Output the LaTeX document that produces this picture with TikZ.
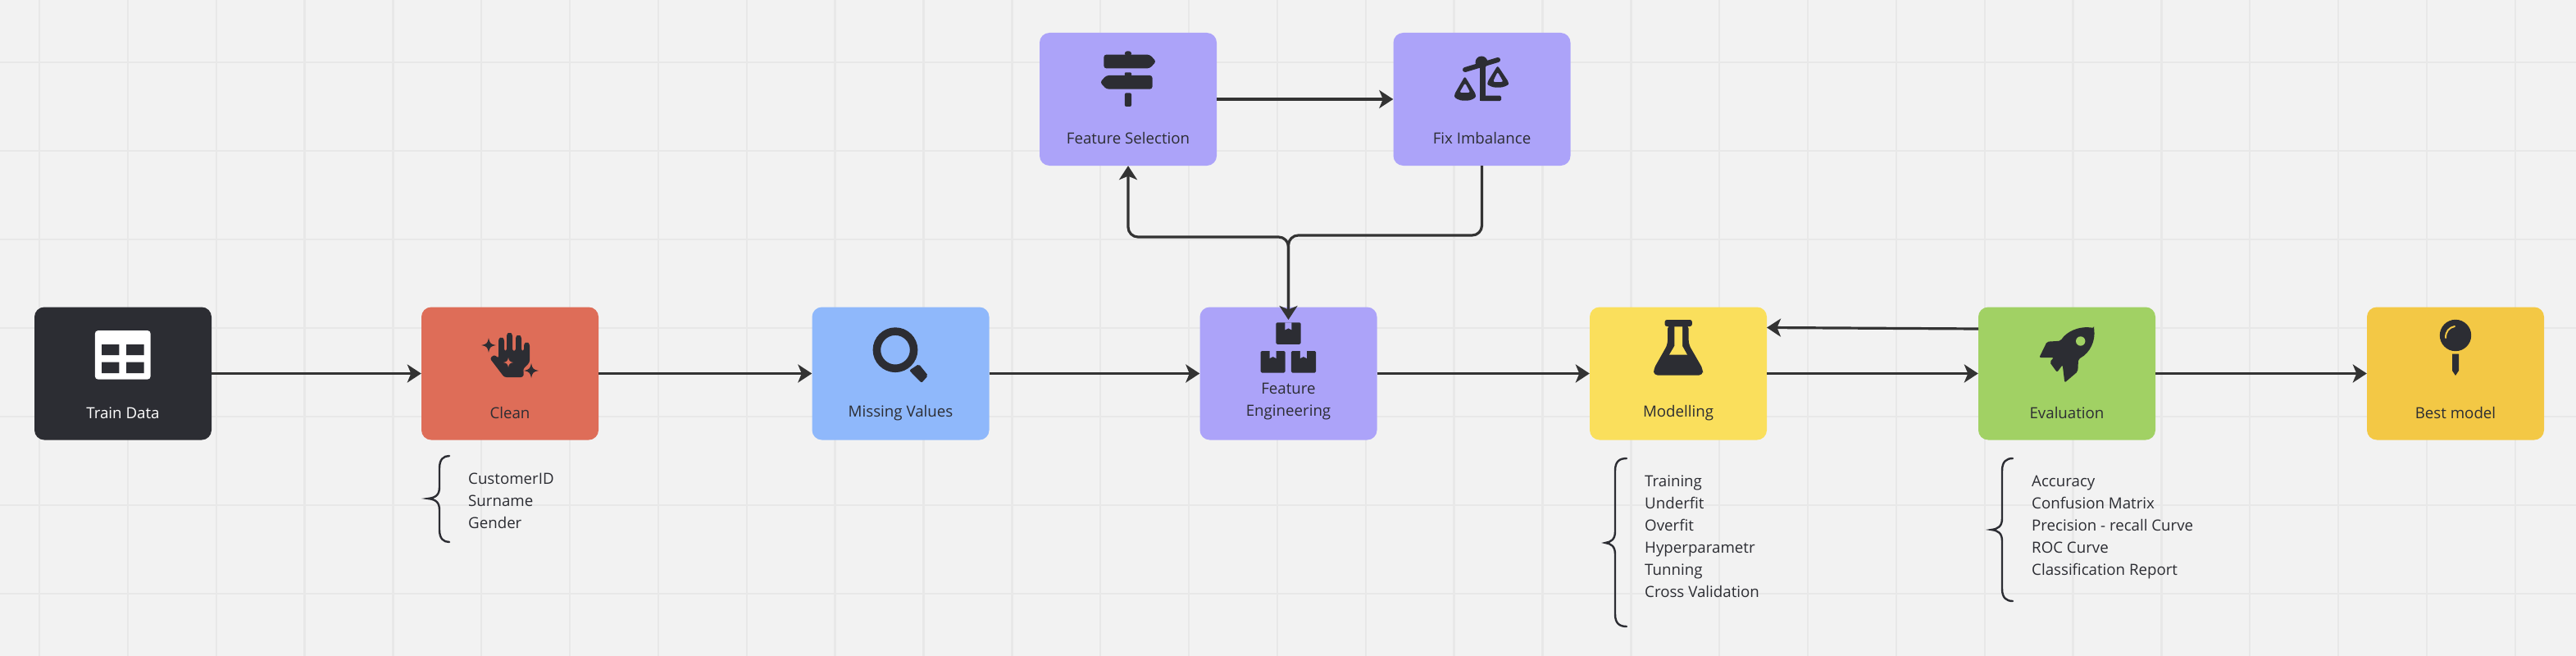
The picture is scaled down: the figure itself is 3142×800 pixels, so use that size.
\documentclass[tikz,border=0pt]{standalone}
\usepackage{fontspec}
\setmainfont{Open Sans}
\usetikzlibrary{arrows.meta}
\definecolor{pagebg}{HTML}{F2F2F2}
\definecolor{gridc}{HTML}{E8E8E8}
\definecolor{ink}{HTML}{2C2D33}
\definecolor{linec}{HTML}{333333}
\definecolor{cred}{HTML}{DE6D58}
\definecolor{cblue}{HTML}{8FB8FB}
\definecolor{cpurple}{HTML}{ACA3F9}
\definecolor{cyellow}{HTML}{FADF5C}
\definecolor{cgreen}{HTML}{A1D164}
\definecolor{cgold}{HTML}{F3C845}
\tikzset{
  cardbox/.style={rectangle,rounded corners=12pt,minimum width=216pt,minimum height=162pt,inner sep=0pt,draw=none},
  lbl/.style={inner sep=0pt,text=ink,align=center,font=\fontsize{18.7}{27}\selectfont},
  listtxt/.style={inner sep=0pt,text=ink,align=left,anchor=north west,font=\fontsize{18.7}{27}\selectfont},
  conn/.style={draw=linec,line width=3.2pt,-{Stealth[length=17pt,width=22pt,inset=4.5pt]}},
  bracel/.style={draw=ink,line width=2.4pt,line cap=round},
  gridl/.style={draw=gridc,line width=2.4pt},
}
\newcommand{\mybrace}[6]{\draw[bracel] (#1,#4) .. controls (#2+5,#4) and (#2,#4+4) .. (#2,#4+15) -- (#2,#5-14) .. controls (#2,#5-4) and (#2-5,#5-1) .. (#3,#5) .. controls (#2-5,#5+1) and (#2,#5+4) .. (#2,#5+14) -- (#2,#6-15) .. controls (#2,#6-4) and (#2+5,#6) .. (#1,#6);}
% sparkle: centre x, centre y, half size, colour
\newcommand{\sparkle}[4]{\fill[#4] (#1+#3,#2) .. controls (#1+0.3*#3,#2-0.12*#3) and (#1+0.12*#3,#2-0.3*#3) .. (#1,#2-#3) .. controls (#1-0.12*#3,#2-0.3*#3) and (#1-0.3*#3,#2-0.12*#3) .. (#1-#3,#2) .. controls (#1-0.3*#3,#2+0.12*#3) and (#1-0.12*#3,#2+0.3*#3) .. (#1,#2+#3) .. controls (#1+0.12*#3,#2+0.3*#3) and (#1+0.3*#3,#2+0.12*#3) .. cycle;}
\begin{document}
\begin{tikzpicture}[x=1pt,y=-1pt]
\useasboundingbox (0,0) rectangle (3142,800);
\fill[pagebg] (0,0) rectangle (3142,800);
\foreach \i in {0,...,28}{\draw[gridl] ({48+107.85*\i},0) -- ({48+107.85*\i},800);}
\foreach \j in {0,...,6}{\draw[gridl] (0,{76+108*\j}) -- (3142,{76+108*\j});}

% cards
\node[cardbox,fill=ink] (train) at (150,455.5) {};
\node[cardbox,fill=cred] (clean) at (622,455.5) {};
\node[cardbox,fill=cblue] (missing) at (1098.5,455.5) {};
\node[cardbox,fill=cpurple] (fe) at (1571.5,455.5) {};
\node[cardbox,fill=cyellow] (model) at (2047,455.5) {};
\node[cardbox,fill=cgreen] (eval) at (2521,455.5) {};
\node[cardbox,fill=cgold] (best) at (2995,455.5) {};
\node[cardbox,fill=cpurple] (fs) at (1376,121) {};
\node[cardbox,fill=cpurple] (fix) at (1807.5,121) {};

% labels
\node[lbl,text=white] (trainl) at (150,503.5) {Train Data};
\node[lbl] (cleanl) at (622,503.5) {Clean};
\node[lbl] (missingl) at (1098.5,503.5) {Missing Values};
\node[lbl] (fel) at (1571.5,490) {Feature\\Engineering};
\node[lbl] (modell) at (2047,503.5) {Modelling};
\node[lbl] (evall) at (2521,503.5) {Evaluation};
\node[lbl] (bestl) at (2995,503.5) {Best model};
\node[lbl] (fsl) at (1376,168) {Feature Selection};
\node[lbl] (fixl) at (1807.5,168) {Fix Imbalance};

% lists
\node[listtxt] (cleanlist) at (571,577) {CustomerID\\Surname\\Gender};
\node[listtxt] (modellist) at (2006,580) {Training\\Underfit\\Overfit\\Hyperparametr\\Tunning\\Cross Validation};
\node[listtxt] (evallist) at (2478,580) {Accuracy\\Confusion Matrix\\Precision - recall Curve\\ROC Curve\\Classification Report};

% braces
\mybrace{548}{536}{522}{556}{608}{661}
\mybrace{1984}{1970}{1958}{559}{662}{764}
\mybrace{2455}{2442}{2429}{559}{646}{733}

% icons: train table
\fill[white,rounded corners=4pt] (115.8,403) rectangle (183.7,462.7);
\fill[ink] (124,420) rectangle (145.4,433) (154,420) rectangle (175.5,433) (124,441.7) rectangle (145.4,455) (154,441.7) rectangle (175.5,455);

% hand
\begin{scope}[shift={(580,395)}]
\fill[ink,rounded corners=2.6pt] (17.5,42) -- (23,37.5) -- (28,42) -- (28,18) -- (31.5,16) -- (35,18) -- (35,33) -- (38,33) -- (38,12) -- (41.5,10.5) -- (45,12) -- (45,33) -- (49,33) -- (49,15) -- (52.5,13.5) -- (56,15) -- (56,33) -- (59,33) -- (59,24) -- (62.5,22) -- (66,24) -- (66,47) -- (58,55) -- (59,60) -- (58,65) -- (35,65) -- cycle;
\sparkle{68}{57}{10.5}{cred}
\sparkle{68}{57}{9}{ink}
\sparkle{16}{26}{8.8}{ink}
\sparkle{40}{47}{6}{cred}
\end{scope}

% magnifier
\fill[ink,even odd rule] (1092,426.7) circle [radius=27.4] (1092,426.7) circle [radius=17.8];
\fill[ink,rounded corners=2pt] (1109,451.7) -- (1120.7,444) -- (1132,458) -- (1124,467) -- cycle;

% feature engineering boxes
\foreach \bx/\by in {1556.4/393.3,1537.5/428,1574.8/428}{
  \fill[ink,rounded corners=1.5pt] (\bx,\by) rectangle ++(30.2,26.5);
  \fill[cpurple] (\bx+11,\by) -- (\bx+19,\by) -- (\bx+19,\by+9) -- (\bx+15,\by+7) -- (\bx+11,\by+9) -- cycle;
}

% flask
\fill[ink,rounded corners=2.5pt] (2030.6,390) rectangle (2063.8,398);
\fill[ink,rounded corners=5pt] (2034,396) -- (2059.7,396) -- (2059.7,420) -- (2077,450) -- (2077,457.7) -- (2017,457.7) -- (2017,450) -- (2034,420) -- cycle;
\fill[cyellow] (2042.3,398.3) -- (2052,398.3) -- (2052,422) -- (2058,432.7) -- (2036,432.7) -- (2042.3,422) -- cycle;

% rocket
\begin{scope}[shift={(2480,395)}]
\fill[ink,rounded corners=2pt] (74,5) .. controls (76,20) and (70,35) .. (55,43) -- (54.3,58) -- (38.3,71.7) -- (35.7,50) -- (29,59) -- (20,46.7) -- (25,41) -- (7.3,41) -- (16.7,21.7) -- (33.3,20.7) .. controls (40,10) and (55,2) .. (74,5) -- cycle;
\fill[cgreen] (57.7,21) circle [radius=5.7];
\end{scope}

% pin
\fill[ink] (2995,409) circle [radius=19.2];
\draw[cgold,line width=2pt,line cap=round] (2983,412) .. controls (2983,404) and (2987,399.5) .. (2994,398);
\fill[ink] (2991,431.7) -- (2999,431.7) -- (2999,452) -- (2995,458) -- (2991,452) -- cycle;

% signpost
\begin{scope}[shift={(1200,0)},x=0.51pt,y=-0.3333pt]
\fill[ink,rounded corners=3pt] (337,205) -- (337,187) -- (353,187) -- (353,205) -- cycle;
\fill[ink,rounded corners=3pt] (287,200) -- (397,200) -- (412,225) -- (397,250) -- (287,250) -- cycle;
\fill[ink,rounded corners=3pt] (403,276) -- (293,276) -- (278,301) -- (293,326) -- (403,326) -- cycle;
\fill[ink,rounded corners=1pt] (337,280) -- (337,265) -- (353,265) -- (353,280) -- cycle;
\fill[ink,rounded corners=2pt] (337,340) rectangle (353,390);
\end{scope}

% scales
\begin{scope}[shift={(1755,60)}]
\draw[ink,line width=6pt,line cap=round] (32,25) -- (72,13);
\fill[ink] (52,16) circle [radius=7.5];
\fill[ink] (50,18) rectangle (56.7,63);
\fill[ink,rounded corners=1.5pt] (50,56.7) rectangle (76,63);
\fill[ink,rounded corners=2.5pt,even odd rule] (31.7,33) -- (45,55) .. controls (45,60) and (38,62.7) .. (32,62.7) .. controls (26,62.7) and (19,60) .. (19,55) -- cycle
  (32,41) -- (25,53) -- (38.5,53) -- cycle;
\fill[ink,rounded corners=2.5pt,even odd rule] (71.7,20) -- (85,40) .. controls (85,44) and (78,46.7) .. (72,46.7) .. controls (66,46.7) and (59.3,44) .. (59.3,40) -- cycle
  (71.7,27.5) -- (65.7,40) -- (78.7,40) -- cycle;
\end{scope}

% connectors
\coordinate (fetip) at (1571.5,390);
\coordinate (busr) at (1571.5,287);
\coordinate (busl) at (1571.5,289);
\draw[conn] (train.east) -- (clean.west);
\draw[conn] (clean.east) -- (missing.west);
\draw[conn] (missing.east) -- (fe.west);
\draw[conn] (fe.east) -- (model.west);
\draw[conn] (model.east) -- (eval.west);
\draw[conn] (eval.east) -- (best.west);
\draw[conn] (fs.east) -- (fix.west);
\draw[conn,rounded corners=12pt] (fix.south) |- (busr) -- (fetip);
\draw[conn,rounded corners=12pt] (fe.north) -- (busl) -| (fs.south);
\coordinate (evalout) at (2413,401);
\coordinate (modelin) at (2155,399.5);
\draw[conn] (evalout) -- (modelin);
\end{tikzpicture}
\end{document}
